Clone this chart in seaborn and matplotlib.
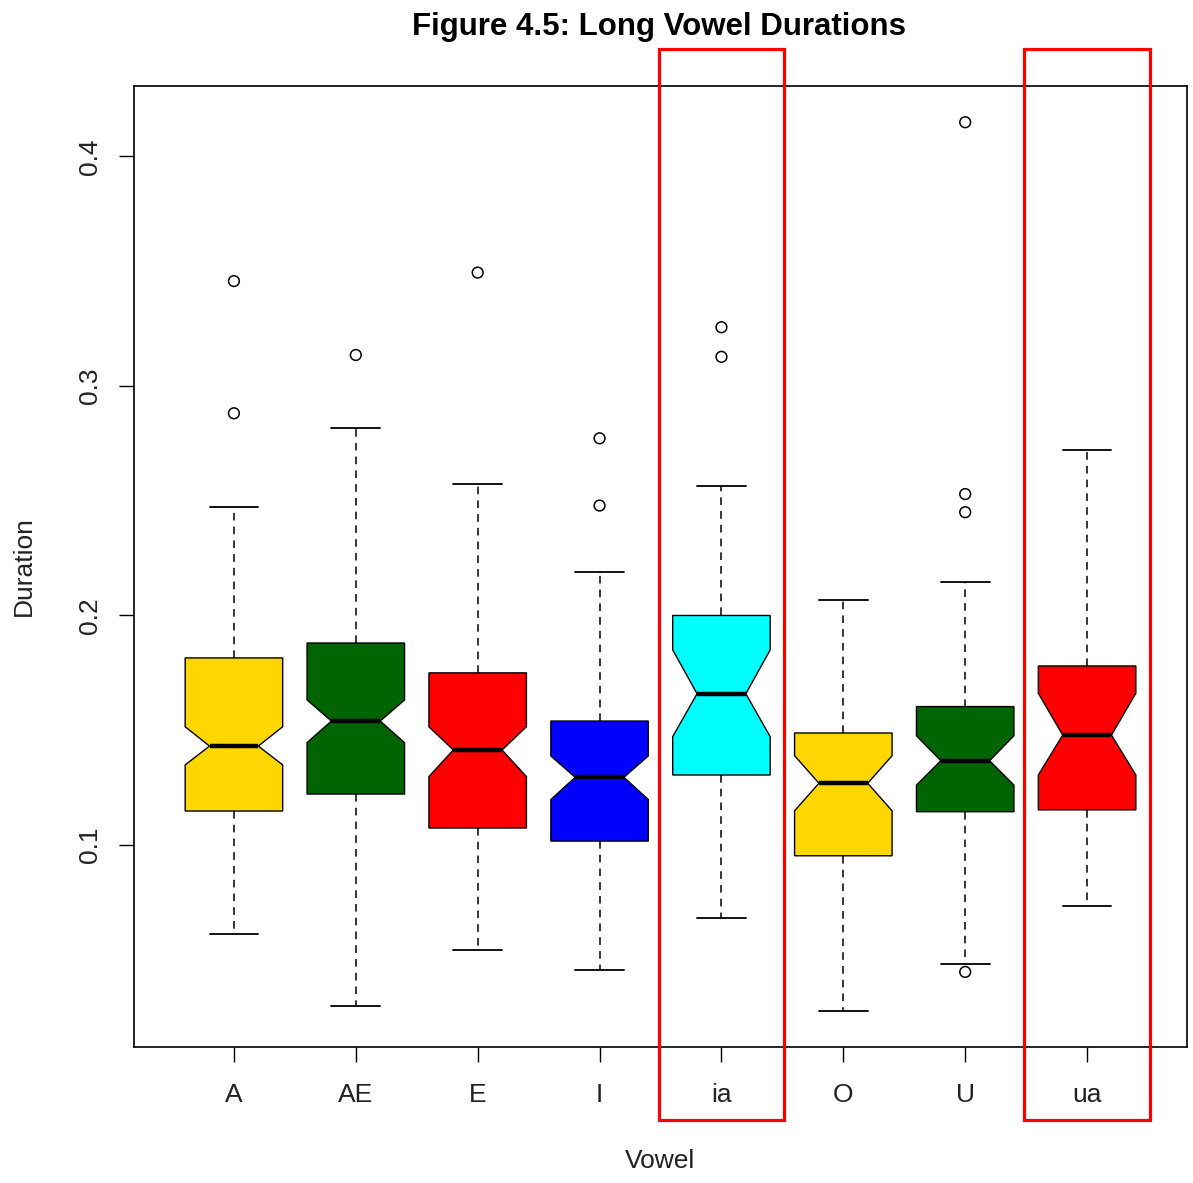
import numpy as np
import pandas as pd
import seaborn as sns
import matplotlib.pyplot as plt
import matplotlib.transforms as mtransforms
from matplotlib.patches import Rectangle

# box statistics
vowels = ["A", "AE", "E", "I", "ia", "O", "U", "ua"]
q1 = [0.1148, 0.1222, 0.1074, 0.1017, 0.1305, 0.0953, 0.1145, 0.1153]
med = [0.1431, 0.1540, 0.1414, 0.1295, 0.1659, 0.1269, 0.1367, 0.1479]
q3 = [0.1815, 0.1880, 0.1750, 0.1540, 0.2000, 0.1488, 0.1603, 0.1780]
whislo = [0.0612, 0.0298, 0.0541, 0.0455, 0.0683, 0.0275, 0.0483, 0.0734]
whishi = [0.2473, 0.2816, 0.2573, 0.2190, 0.2566, 0.2068, 0.2146, 0.2722]
notch_lo = [0.1349, 0.1446, 0.1298, 0.1198, 0.1472, 0.1149, 0.1261, 0.1305]
notch_hi = [0.1515, 0.1632, 0.1515, 0.1388, 0.1850, 0.1389, 0.1476, 0.1661]

# outliers
out_vowel = ["A", "A", "AE", "E", "I", "I", "ia", "ia", "U", "U", "U", "U"]
out_value = [0.3457, 0.2881, 0.3135, 0.3494, 0.2772, 0.2479,
             0.3256, 0.3127, 0.4149, 0.2529, 0.2450, 0.0447]

colors = ["#FFD700", "#006400", "#FF0000", "#0000FF", "#00FFFF",
          "#FFD700", "#006400", "#FF0000"]
highlight = ["ia", "ua"]

sns.set_style("white")
plt.rcParams["font.family"] = ["Liberation Sans", "DejaVu Sans"]

fig = plt.figure(figsize=(11.93, 11.83), dpi=100)
ax = fig.add_axes([0.1123, 0.115, 0.8827, 0.8123])

stats = []
for i, v in enumerate(vowels):
    stats.append(dict(label=v, q1=q1[i], med=med[i], q3=q3[i],
                      whislo=whislo[i], whishi=whishi[i],
                      cilo=notch_lo[i], cihi=notch_hi[i], fliers=[]))

pos = np.arange(len(vowels))
bp = ax.bxp(stats, positions=pos, widths=0.8, capwidths=0.4, shownotches=True,
            patch_artist=True, showfliers=False,
            boxprops=dict(edgecolor="black", linewidth=1),
            medianprops=dict(color="black", linewidth=3.2),
            whiskerprops=dict(color="black", linewidth=1.1, linestyle=(0, (5, 4))),
            capprops=dict(color="black", linewidth=1.3))
for patch, c in zip(bp["boxes"], colors):
    patch.set_facecolor(c)

# outlier points
df_out = pd.DataFrame({"x": [vowels.index(v) for v in out_vowel], "y": out_value})
sns.scatterplot(data=df_out, x="x", y="y", ax=ax, marker="o", s=60,
                facecolor="none", edgecolor="black", linewidth=1.1, zorder=3)

# R style axis range: 0.5 .. n+0.5 with 4% padding
ax.set_xlim(-0.82, len(vowels) - 0.18)
ax.set_ylim(0.012, 0.4307)
ax.set_xticks(pos)
ax.set_xticklabels(vowels)
ax.set_yticks([0.1, 0.2, 0.3, 0.4])
ax.set_yticklabels(["0.1", "0.2", "0.3", "0.4"], rotation=90, va="center")
ax.tick_params(axis="both", direction="out", length=11, width=1,
               labelsize=19, color="black", labelcolor="#222222",
               bottom=True, left=True)
ax.tick_params(axis="x", pad=15)
ax.tick_params(axis="y", pad=12)
for s in ax.spines.values():
    s.set_color("black")
    s.set_linewidth(1.2)

ax.set_xlabel("Vowel", fontsize=19, labelpad=30, color="#222222")
ax.set_ylabel("Duration", fontsize=19, labelpad=30, color="#222222")
fig.suptitle("Figure 4.5: Long Vowel Durations", fontsize=22.5,
             fontweight="bold", x=0.552, y=0.99, va="top", color="black")

# red highlight frames around the diphthongs
trans = mtransforms.blended_transform_factory(ax.transData, fig.transFigure)
for v in highlight:
    i = vowels.index(v)
    fig.patches.append(Rectangle((i - 0.515, 0.0533), 1.03, 0.9053,
                                 transform=trans, fill=False,
                                 edgecolor="#FF0000", linewidth=2.3,
                                 clip_on=False, zorder=10))

fig.savefig("out.png", dpi=100)
